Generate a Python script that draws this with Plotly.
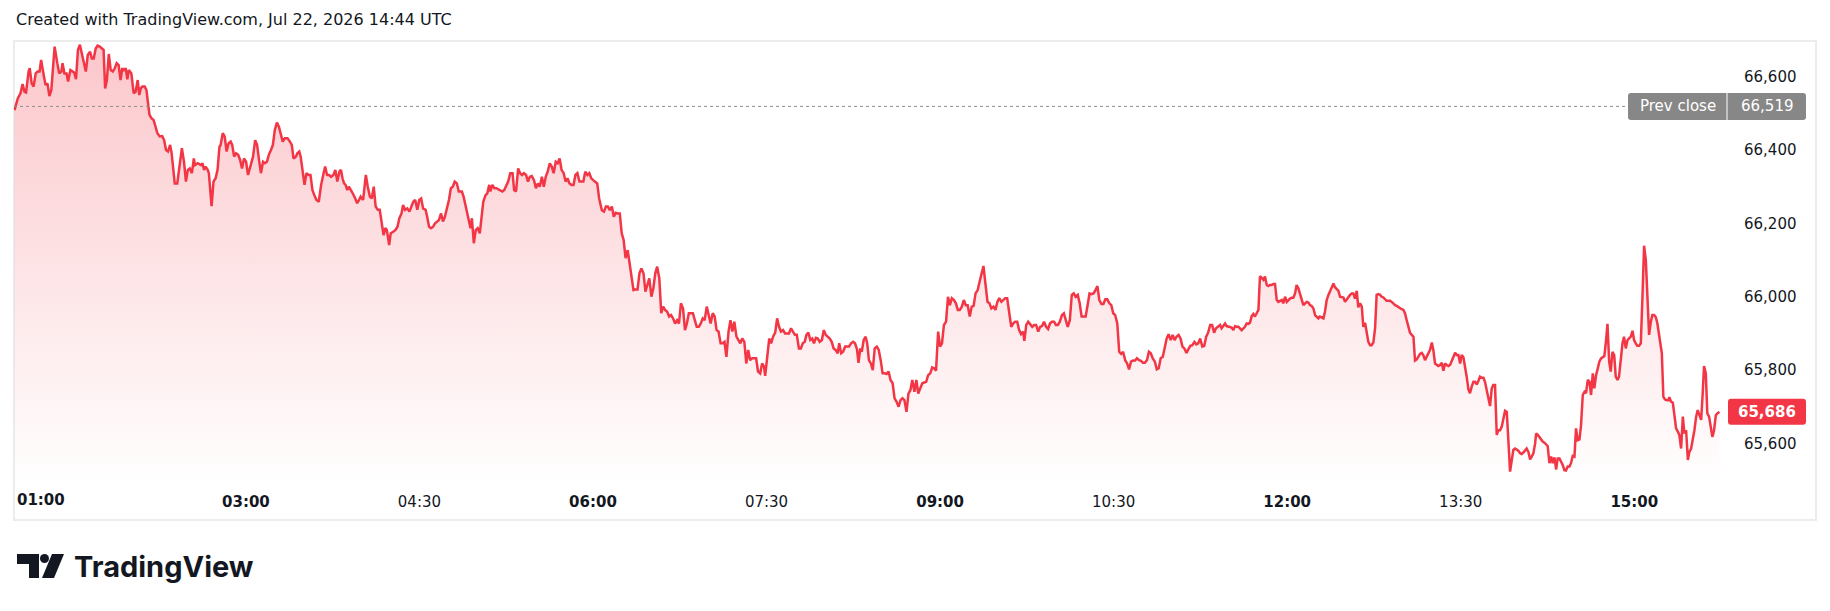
import pandas as pd
import plotly.graph_objects as go

# ---------------- data (minutes after 01:00, price) ----------------
session_start = "2026-07-22 01:00"

morning = [
    (0.0, 66509), (1.7, 66541), (3.1, 66555), (4.2, 66580), (5.2, 66559), (6.0, 66557), (7.3, 66614), (7.9, 66623), (8.9, 66582), (9.9, 66573),
    (11.0, 66609), (12.0, 66614), (13.0, 66614), (13.8, 66646), (15.0, 66609), (16.1, 66577), (17.1, 66582), (18.1, 66547), (19.1, 66564), (20.2, 66646),
    (20.8, 66682), (22.2, 66637), (23.2, 66609), (24.3, 66614), (24.9, 66637), (25.9, 66609), (27.0, 66609), (27.8, 66587), (29.0, 66618), (30.2, 66614),
    (31.0, 66611), (31.9, 66593), (32.9, 66673), (33.9, 66687), (35.1, 66655), (37.0, 66614), (38.0, 66659), (39.2, 66668), (40.1, 66650), (41.1, 66650),
    (42.1, 66677), (43.1, 66685), (44.2, 66682), (45.4, 66677), (46.2, 66673), (47.0, 66568), (47.9, 66591), (48.9, 66662), (49.9, 66618), (51.0, 66614),
    (52.0, 66623), (53.0, 66637), (54.0, 66632), (55.0, 66591), (55.9, 66623), (56.7, 66618), (57.7, 66623), (58.5, 66593), (59.3, 66618), (60.6, 66609),
    (61.8, 66555), (62.8, 66559), (63.9, 66591), (64.7, 66550), (65.5, 66568), (66.3, 66573), (67.5, 66573), (68.4, 66564), (69.4, 66518), (70.0, 66496),
    (71.0, 66487), (72.1, 66482), (72.9, 66468), (74.1, 66446), (75.3, 66437), (76.6, 66438), (77.6, 66427), (78.6, 66400), (79.6, 66396), (80.7, 66414),
    (81.5, 66391), (82.3, 66337), (83.1, 66309), (84.4, 66309), (85.8, 66364), (86.8, 66405), (87.9, 66368), (88.9, 66314), (89.9, 66346), (90.9, 66350),
    (92.0, 66337), (93.0, 66377), (93.6, 66359), (95.0, 66364), (96.7, 66359), (97.5, 66364), (98.3, 66346), (99.1, 66355), (100.2, 66346), (100.8, 66337),
    (102.2, 66247), (103.2, 66314), (104.3, 66323), (105.3, 66346), (106.3, 66409), (106.9, 66414), (108.0, 66446), (109.0, 66437), (110.0, 66396), (111.0, 66418),
    (112.1, 66423), (112.9, 66414), (113.9, 66382), (114.9, 66391), (116.0, 66387), (117.0, 66373), (118.0, 66350), (119.0, 66377), (120.1, 66368), (121.1, 66332),
    (122.3, 66355), (123.7, 66382), (124.8, 66427), (125.8, 66414), (126.8, 66373), (127.8, 66337), (128.9, 66368), (129.9, 66364), (130.9, 66368), (131.9, 66387),
    (133.0, 66400), (134.0, 66414), (135.0, 66455), (136.1, 66475), (137.1, 66464), (138.1, 66441), (139.1, 66423), (140.2, 66432), (141.6, 66432), (142.8, 66423),
    (143.8, 66414), (144.7, 66377), (145.9, 66382), (146.7, 66391), (147.7, 66396), (148.4, 66382), (149.4, 66346), (150.4, 66305), (151.4, 66337), (152.5, 66332),
    (153.5, 66332), (154.5, 66291), (155.5, 66277), (156.6, 66264), (157.8, 66259), (159.0, 66305), (160.3, 66337), (161.1, 66355), (162.1, 66332), (163.1, 66332),
    (164.2, 66327), (165.4, 66332), (166.4, 66346), (167.4, 66314), (168.5, 66341), (169.3, 66346), (170.1, 66323), (170.9, 66309), (171.7, 66305), (172.6, 66291),
    (173.4, 66300), (174.2, 66291), (175.4, 66282), (176.7, 66268), (177.7, 66255), (178.7, 66264), (179.5, 66273), (180.8, 66264), (182.2, 66332), (183.2, 66300),
    (184.3, 66273), (185.3, 66268), (186.3, 66300), (187.3, 66246), (188.4, 66237), (189.4, 66237), (190.6, 66200), (191.4, 66168), (192.3, 66187), (193.1, 66182),
    (194.3, 66141), (195.1, 66173), (196.4, 66177), (197.6, 66182), (198.6, 66191), (199.6, 66214), (200.7, 66227), (201.5, 66250), (202.5, 66237), (203.7, 66241),
    (204.8, 66232), (205.8, 66246), (206.8, 66259), (207.8, 66264), (208.9, 66237), (209.9, 66264), (210.9, 66268), (211.9, 66241), (213.2, 66237), (214.0, 66218),
    (215.0, 66191), (216.0, 66187), (217.1, 66191), (218.1, 66200), (219.1, 66205), (220.1, 66209), (221.2, 66227), (222.2, 66205), (223.2, 66218), (224.2, 66237),
    (225.3, 66264), (226.3, 66296), (227.3, 66300), (228.3, 66314), (229.4, 66309), (230.4, 66287), (232.0, 66287), (232.9, 66273), (234.1, 66246), (235.5, 66209),
    (236.5, 66187), (237.2, 66214), (238.2, 66146), (239.2, 66182), (240.2, 66187), (241.3, 66173), (242.3, 66218), (243.1, 66259), (244.3, 66277), (245.2, 66282),
    (246.2, 66305), (246.8, 66287), (247.8, 66305), (248.9, 66296), (249.9, 66296), (251.3, 66291), (253.0, 66287), (254.0, 66291), (255.0, 66305), (256.0, 66314),
    (257.1, 66337), (258.3, 66337), (259.1, 66291), (260.1, 66287), (261.2, 66350), (262.2, 66337), (263.2, 66332), (264.2, 66337), (265.3, 66332), (266.3, 66314),
    (267.3, 66327), (268.3, 66329), (269.4, 66318), (270.4, 66296), (271.4, 66309), (272.4, 66300), (273.5, 66327), (274.5, 66300), (275.5, 66327), (276.5, 66341),
    (277.6, 66364), (278.6, 66355), (279.6, 66337), (280.7, 66368), (281.7, 66364), (282.7, 66377), (283.7, 66346), (284.8, 66337), (285.8, 66314), (286.8, 66323),
    (287.8, 66309), (288.9, 66305), (289.9, 66305), (290.9, 66332), (291.9, 66337), (293.0, 66314), (294.0, 66314), (295.0, 66314), (296.0, 66341), (297.1, 66332),
    (298.1, 66337), (299.1, 66323), (300.1, 66318), (302.2, 66309), (303.2, 66268),
]

midday = [
    (304.6, 66236), (305.7, 66232), (306.7, 66246), (307.7, 66246), (308.7, 66236), (309.8, 66246), (310.8, 66218), (311.8, 66229), (312.8, 66227), (313.9, 66227),
    (314.9, 66173), (315.9, 66155), (316.9, 66105), (318.0, 66127), (319.0, 66091), (320.0, 66050), (321.0, 66018), (322.1, 66020), (323.1, 66020), (324.1, 66064),
    (325.1, 66077), (326.2, 66064), (327.2, 66014), (328.2, 66032), (329.2, 66050), (330.3, 66000), (331.3, 66023), (332.3, 66064), (333.3, 66082), (334.4, 66050),
    (335.4, 65955), (336.4, 65973), (337.4, 65964), (338.5, 65959), (339.5, 65946), (340.5, 65950), (341.5, 65941), (342.6, 65927), (343.6, 65936), (344.6, 65927),
    (345.6, 65982), (346.7, 65968), (347.7, 65909), (348.7, 65927), (349.7, 65955), (350.8, 65955), (351.8, 65955), (352.8, 65936), (353.8, 65918), (354.9, 65918),
    (355.9, 65927), (356.9, 65941), (357.9, 65936), (359.0, 65973), (360.0, 65946), (361.0, 65927), (362.1, 65955), (363.1, 65946), (364.1, 65909), (365.1, 65905),
    (366.2, 65873), (367.2, 65873), (368.2, 65877), (369.2, 65836), (370.3, 65905), (371.3, 65936), (372.3, 65905), (373.3, 65932), (374.4, 65891), (375.4, 65882),
    (376.4, 65873), (377.4, 65886), (378.5, 65877), (379.5, 65818), (380.5, 65855), (381.5, 65827), (382.6, 65832), (383.6, 65832), (384.6, 65832), (385.6, 65796),
    (386.7, 65791), (387.7, 65818), (388.7, 65809), (389.3, 65784), (390.4, 65836), (391.4, 65886), (392.4, 65873), (393.4, 65891), (394.5, 65902), (395.5, 65941),
    (396.5, 65918), (397.5, 65905), (398.6, 65909), (399.6, 65900), (400.6, 65900), (401.6, 65900), (402.7, 65914), (403.7, 65905), (404.7, 65896), (405.7, 65896),
    (406.8, 65859), (407.8, 65859), (408.8, 65873), (409.8, 65877), (410.7, 65896), (411.7, 65902), (412.7, 65882), (413.7, 65886), (414.6, 65873), (415.6, 65888),
    (416.6, 65886), (417.6, 65877), (418.7, 65882), (419.7, 65909), (420.7, 65896), (421.7, 65891), (422.8, 65886), (423.8, 65877), (424.8, 65859), (425.8, 65855),
    (426.9, 65846), (427.7, 65873), (428.7, 65846), (429.7, 65850), (430.8, 65864), (431.8, 65864), (432.8, 65864), (433.8, 65873), (434.9, 65877), (435.9, 65873),
    (436.9, 65857), (437.7, 65820), (438.6, 65859), (439.4, 65850), (440.4, 65882), (441.4, 65891), (442.2, 65873), (443.1, 65827), (444.1, 65818), (445.1, 65800),
    (446.1, 65859), (447.2, 65864), (448.2, 65855), (449.2, 65827), (450.2, 65791), (451.3, 65791), (452.3, 65789), (453.3, 65796), (454.3, 65773), (455.4, 65764),
    (456.4, 65723), (457.4, 65714), (458.5, 65700), (459.5, 65718), (460.5, 65723), (461.5, 65718), (462.6, 65686), (463.6, 65736), (464.6, 65745), (465.6, 65773),
    (466.7, 65741), (467.7, 65773), (468.7, 65736), (469.7, 65750), (470.8, 65764), (471.8, 65766), (472.8, 65768), (473.8, 65786), (474.9, 65791), (475.9, 65807),
    (476.9, 65805), (477.9, 65798), (479.0, 65905), (480.0, 65864), (481.0, 65873), (482.0, 65923), (483.1, 65932), (484.1, 66000), (485.1, 65977), (486.1, 65996),
    (487.2, 65991), (488.2, 65982), (489.2, 65964), (490.2, 65964), (491.3, 65973), (492.3, 65991), (493.3, 65977), (494.3, 65977), (495.4, 65946), (496.4, 65973),
    (497.4, 65975), (498.4, 66009), (499.5, 66018), (500.5, 66041), (501.5, 66064), (502.5, 66084), (503.6, 66032), (504.6, 65986), (505.6, 65982), (506.6, 65968),
    (507.7, 65973), (508.7, 65964), (509.7, 65986), (510.7, 65996), (511.8, 65986), (512.8, 65991), (513.8, 65996), (514.8, 65996), (515.9, 65955), (516.9, 65918),
    (517.9, 65927), (518.9, 65932), (520.0, 65932), (521.0, 65909), (522.0, 65898), (523.1, 65905), (523.7, 65880), (524.7, 65923), (525.7, 65932), (526.8, 65923),
    (527.8, 65918), (528.8, 65923), (529.8, 65923), (530.9, 65905), (531.9, 65918), (532.9, 65920), (533.9, 65932), (535.0, 65918), (536.0, 65912), (537.0, 65927),
    (538.0, 65932), (539.1, 65932), (540.1, 65923), (541.1, 65923), (542.1, 65932), (543.2, 65950), (544.2, 65955), (545.2, 65936), (546.2, 65918), (547.3, 65936),
    (548.3, 66005), (549.3, 66009), (550.3, 66000), (551.4, 66005), (552.4, 65982), (553.4, 65946), (554.4, 65946), (555.5, 65946), (556.5, 65977), (557.5, 66009),
    (558.5, 66007), (559.6, 66009), (560.6, 66018), (561.6, 66029), (562.6, 65991), (563.7, 65980), (564.7, 65980), (565.7, 65993), (566.7, 65993), (567.8, 65982),
    (568.8, 65977), (569.8, 65955), (570.8, 65950), (571.9, 65927), (572.9, 65850), (573.9, 65844), (574.9, 65850), (576.0, 65827), (577.0, 65818), (578.0, 65802),
    (579.0, 65823), (580.1, 65826), (581.1, 65826), (582.1, 65832), (583.2, 65827), (584.2, 65825), (585.2, 65820), (586.2, 65820), (587.3, 65827), (588.3, 65850),
    (589.3, 65846), (590.3, 65832), (591.4, 65823), (592.4, 65802), (593.4, 65805), (594.4, 65832), (595.5, 65836), (596.5, 65859), (597.5, 65886), (598.5, 65898),
    (599.6, 65882), (600.6, 65896), (601.6, 65882), (602.6, 65891), (603.7, 65896), (604.7, 65886), (605.7, 65864), (606.7, 65859), (607.8, 65847), (608.8, 65857),
    (609.8, 65866), (610.8, 65868), (611.9, 65877), (612.9, 65870), (613.9, 65873), (614.9, 65886), (616.0, 65864), (617.0, 65866), (618.0, 65891), (619.0, 65902),
    (620.1, 65923), (621.1, 65923), (622.1, 65902), (623.1, 65914), (624.2, 65920), (625.2, 65923),
]

afternoon = [
    (626.0, 65914), (626.9, 65920), (627.8, 65927), (628.6, 65920), (629.5, 65918), (630.4, 65918), (631.2, 65916), (632.1, 65909), (633.0, 65920), (633.8, 65918),
    (634.7, 65918), (635.5, 65914), (636.4, 65909), (637.3, 65914), (638.1, 65918), (639.0, 65927), (639.9, 65926), (640.7, 65929), (641.6, 65947), (642.5, 65953),
    (643.3, 65946), (644.2, 65955), (645.1, 65964), (645.9, 66056), (646.8, 66050), (647.7, 66046), (648.5, 66055), (649.4, 66032), (650.2, 66029), (651.1, 66032),
    (652.0, 66032), (652.8, 66035), (653.7, 66035), (654.6, 65991), (655.4, 65986), (656.3, 65989), (657.2, 65991), (658.0, 65982), (658.9, 66000), (659.8, 65986),
    (660.6, 65991), (661.5, 65995), (662.3, 65997), (663.2, 65997), (664.1, 66009), (664.9, 66032), (665.8, 66023), (666.7, 66009), (667.5, 65991), (668.4, 65977),
    (669.3, 65982), (670.1, 65986), (671.0, 65984), (671.9, 65977), (672.7, 65975), (673.6, 65968), (674.5, 65950), (675.3, 65946), (676.2, 65941), (677.0, 65946),
    (677.9, 65944), (678.8, 65941), (679.6, 65959), (680.5, 65991), (681.4, 66005), (682.2, 66014), (683.1, 66023), (684.0, 66036), (684.8, 66026), (685.7, 66020),
    (686.6, 66016), (687.4, 66000), (688.3, 65998), (689.2, 65998), (690.0, 65986), (690.9, 65993), (691.7, 66000), (692.6, 66005), (693.5, 66009), (694.3, 66009),
    (695.2, 65995), (696.1, 66016), (696.9, 65971), (697.8, 65982), (698.7, 65973), (699.5, 65918), (700.4, 65929), (701.3, 65896), (702.1, 65877), (703.0, 65868),
    (703.8, 65868), (704.7, 65875), (705.6, 65914), (706.4, 66005), (707.3, 66007), (708.2, 66005), (709.0, 66000), (709.9, 65998), (710.8, 65993), (711.6, 65989),
    (712.5, 65989), (713.4, 65989), (714.2, 65986), (715.1, 65980), (716.0, 65977), (716.8, 65975), (717.7, 65971), (718.5, 65968), (719.4, 65966), (720.3, 65964),
    (721.1, 65955), (722.0, 65936), (722.9, 65920), (723.7, 65902), (724.6, 65896), (725.5, 65891), (726.3, 65826), (727.2, 65829), (728.0, 65836), (728.9, 65844),
    (729.8, 65847), (730.6, 65841), (731.5, 65827), (732.4, 65836), (733.2, 65846), (734.1, 65855), (735.0, 65875), (735.8, 65855), (736.7, 65818), (737.6, 65814),
    (738.4, 65811), (739.3, 65814), (740.2, 65820), (741.0, 65798), (741.9, 65818), (742.7, 65814), (743.6, 65811), (744.5, 65814), (745.3, 65823), (746.2, 65836),
    (747.1, 65847), (747.9, 65841), (748.8, 65841), (749.7, 65818), (750.5, 65841), (751.4, 65835), (752.3, 65809), (753.1, 65782), (754.0, 65747), (754.8, 65737),
    (755.7, 65755), (756.6, 65768), (757.4, 65768), (758.3, 65761), (759.2, 65771), (760.0, 65782), (760.9, 65779), (761.8, 65779), (762.6, 65768), (763.5, 65744),
    (764.4, 65718), (765.2, 65702), (766.1, 65750), (766.9, 65759), (767.8, 65759), (768.7, 65623), (769.5, 65636), (770.4, 65636), (771.3, 65646), (772.1, 65668),
    (773.0, 65689), (773.9, 65686), (774.7, 65609), (775.6, 65523), (776.5, 65555), (777.3, 65582), (778.2, 65586), (779.1, 65584), (779.9, 65580), (780.8, 65573),
    (781.6, 65571), (782.5, 65575), (783.4, 65580), (784.2, 65586), (785.1, 65577), (786.0, 65556), (786.8, 65564), (787.7, 65573), (788.6, 65600), (789.1, 65627),
    (790.0, 65623), (790.8, 65616), (791.7, 65611), (792.5, 65605), (793.4, 65602), (794.3, 65598), (795.1, 65593), (796.0, 65546), (796.9, 65564), (797.7, 65546),
    (798.6, 65562), (799.5, 65529), (800.3, 65559), (801.2, 65559), (802.1, 65550), (802.9, 65541), (803.8, 65527), (804.6, 65526), (805.5, 65537), (806.4, 65537),
    (807.2, 65546), (808.1, 65566), (809.0, 65564), (809.8, 65641), (810.7, 65609), (811.6, 65611), (812.4, 65650), (813.3, 65732), (814.2, 65741), (815.0, 65737),
    (815.9, 65773), (816.8, 65768), (817.6, 65732), (818.5, 65791), (819.3, 65750), (820.2, 65786), (821.1, 65805), (821.9, 65823), (822.8, 65832), (823.7, 65836),
    (824.5, 65838), (825.4, 65882), (826.1, 65926), (827.0, 65823), (827.8, 65796), (828.7, 65850), (829.6, 65841), (830.4, 65782), (831.3, 65773), (832.1, 65782),
    (833.0, 65836), (833.9, 65873), (834.7, 65891), (835.6, 65859), (836.5, 65882), (837.3, 65887), (838.2, 65891), (839.1, 65907), (839.9, 65882), (840.8, 65873),
    (841.6, 65866), (842.5, 65866), (843.4, 65873), (844.2, 65991), (845.1, 66139), (846.0, 66100), (846.8, 66009), (847.7, 65896), (848.6, 65932), (849.4, 65950),
    (850.3, 65950), (851.2, 65944), (852.0, 65927), (852.9, 65891), (853.7, 65864), (854.3, 65846), (855.1, 65727), (856.0, 65720), (856.9, 65718), (857.7, 65718),
    (858.2, 65726), (859.1, 65714), (860.0, 65711), (860.8, 65673), (861.7, 65641), (862.6, 65632), (863.4, 65623), (864.3, 65586), (865.2, 65673), (866.0, 65627),
    (866.9, 65636), (867.8, 65555), (868.6, 65577), (869.5, 65586), (870.3, 65609), (871.2, 65636), (872.1, 65673), (872.9, 65691), (873.8, 65677), (874.7, 65664),
    (875.5, 65737), (876.2, 65811), (877.1, 65791), (877.9, 65682), (878.8, 65673), (879.7, 65646), (880.5, 65618), (881.4, 65636), (882.3, 65677), (883.1, 65682),
    (884.2, 65686),
]

prev_close = 66519
last_price = 65686
price_ticks = [65600, 65800, 66000, 66200, 66400, 66600]
time_ticks = ["03:00", "04:30", "06:00", "07:30", "09:00", "10:30", "12:00", "13:30", "15:00"]
first_label = "01:00"
title_text = "Created with TradingView.com, Jul 22, 2026 14:44 UTC"
brand_text = "TradingView"

# ---------------- build series ----------------
base = pd.Timestamp(session_start)
pairs = morning + midday + afternoon
times = [base + pd.Timedelta(minutes=m) for m, _ in pairs]
prices = [p for _, p in pairs]

# ---------------- layout geometry (pixels) ----------------
W, H = 1830, 611
PL, PR, PT, PB = 14, 1727, 41, 488          # pane edges
X_MIN = base - pd.Timedelta(minutes=0.26)
X_MAX = base + pd.Timedelta(minutes=888.1)
Y_MIN, Y_MAX = 65478.4, 66697.4

def px(xp):
    return (xp - PL) / (PR - PL)

def py(yp):
    return (PB - yp) / (PB - PT)

RED = "#F23645"
TXT = "#131722"
GREY = "#878787"
FONT = "DejaVu Sans"

fig = go.Figure()
fig.add_trace(go.Scatter(
    x=times, y=prices, mode="lines",
    line=dict(color=RED, width=2.5),
    fill="tozeroy",
    fillgradient=dict(type="vertical", start=Y_MIN, stop=66690,
                      colorscale=[[0, "rgba(242,54,69,0.0)"], [1, "rgba(242,54,69,0.28)"]]),
    hoverinfo="skip", showlegend=False,
))

tick_dt = [pd.Timestamp("2026-07-22 " + t) for t in time_ticks]
tick_txt = [("<b>%s</b>" % t) if t.endswith(":00") else t for t in time_ticks]

shapes = []
# outer frame
shapes.append(dict(type="rect", xref="paper", yref="paper",
                   x0=px(14), x1=px(1816), y0=py(41), y1=py(520),
                   line=dict(color="#ececec", width=2), fillcolor="rgba(0,0,0,0)", layer="below"))
# prev close dotted line
shapes.append(dict(type="line", xref="paper", yref="y", x0=0, x1=px(1628),
                   y0=prev_close, y1=prev_close, line=dict(color="#8c8c8c", width=1, dash="dot")))

def rounded(x0, x1, h, r=3):
    y0, y1 = -h / 2, h / 2
    return (f"M {x0+r},{y0} L {x1-r},{y0} Q {x1},{y0} {x1},{y0+r} L {x1},{y1-r} Q {x1},{y1} {x1-r},{y1} "
            f"L {x0+r},{y1} Q {x0},{y1} {x0},{y1-r} L {x0},{y0+r} Q {x0},{y0} {x0+r},{y0} Z")

# prev close label box
shapes.append(dict(type="path", xref="paper", yref="y", xsizemode="pixel", ysizemode="pixel",
                   xanchor=1, yanchor=prev_close, path=rounded(-99, 79, 27),
                   fillcolor=GREY, line=dict(width=0)))
shapes.append(dict(type="line", xref="paper", yref="y", xsizemode="pixel", ysizemode="pixel",
                   xanchor=1, yanchor=prev_close, x0=0, x1=0, y0=-13.5, y1=13.5,
                   line=dict(color="white", width=1)))
# last price label box
shapes.append(dict(type="path", xref="paper", yref="y", xsizemode="pixel", ysizemode="pixel",
                   xanchor=1, yanchor=last_price, path=rounded(1, 79, 26),
                   fillcolor=RED, line=dict(width=0)))

# TradingView logo mark
def P(x, y):
    return f"{px(x)},{py(y)}"
shapes.append(dict(type="path", xref="paper", yref="paper",
                   path=f"M {P(17,554)} L {P(39,554)} L {P(39,578)} L {P(29,578)} L {P(29,564)} L {P(17,564)} Z",
                   fillcolor=TXT, line=dict(width=0)))
shapes.append(dict(type="circle", xref="paper", yref="paper",
                   x0=px(40), x1=px(49), y0=py(563), y1=py(554), fillcolor=TXT, line=dict(width=0)))
shapes.append(dict(type="path", xref="paper", yref="paper",
                   path=f"M {P(52,554)} L {P(64,554)} L {P(54,578)} L {P(42,578)} Z",
                   fillcolor=TXT, line=dict(width=0)))

annotations = [
    dict(xref="paper", yref="paper", x=px(14), y=py(20), xanchor="left", yanchor="middle",
         text=title_text, showarrow=False, font=dict(family=FONT, size=16, color=TXT)),
    dict(xref="paper", yref="paper", x=px(15), y=py(500), xanchor="left", yanchor="middle",
         text="<b>%s</b>" % first_label, showarrow=False, font=dict(family=FONT, size=15, color=TXT)),
    dict(xref="paper", yref="y", x=px(1677.5), y=prev_close, xanchor="center", yanchor="middle",
         text="Prev close", showarrow=False, font=dict(family=FONT, size=15, color="white")),
    dict(xref="paper", yref="y", x=px(1767), y=prev_close, xanchor="center", yanchor="middle",
         text=f"{prev_close:,}", showarrow=False, font=dict(family=FONT, size=15, color="white")),
    dict(xref="paper", yref="y", x=px(1767), y=last_price, xanchor="center", yanchor="middle",
         text=f"<b>{last_price:,}</b>", showarrow=False, font=dict(family=FONT, size=15, color="white")),
    dict(xref="paper", yref="paper", x=px(72), y=py(566), xanchor="left", yanchor="middle",
         text=f"<b>{brand_text}</b>", showarrow=False, font=dict(family="Inter", size=29, color=TXT)),
]

fig.update_layout(
    width=W, height=H, autosize=False,
    margin=dict(l=PL, r=W - PR, t=PT, b=H - PB, pad=0),
    paper_bgcolor="white", plot_bgcolor="white",
    showlegend=False,
    xaxis=dict(range=[X_MIN, X_MAX], tickvals=tick_dt, ticktext=tick_txt, showgrid=False,
               zeroline=False, showline=False, ticks="", tickfont=dict(family=FONT, size=15, color=TXT),
               ticklabelstandoff=3, fixedrange=True),
    yaxis=dict(range=[Y_MIN, Y_MAX], side="right", tickvals=price_ticks,
               ticktext=[f"{v:,}" for v in price_ticks], showgrid=False, zeroline=False,
               showline=False, ticks="", tickfont=dict(family=FONT, size=15, color=TXT),
               ticklabelstandoff=16, fixedrange=True),
    shapes=shapes, annotations=annotations,
)

fig.write_html("out.html", config={"displayModeBar": False})
